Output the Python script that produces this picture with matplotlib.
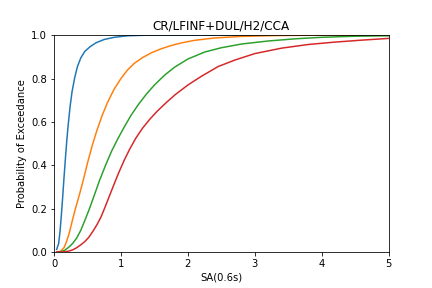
import numpy as np
import matplotlib
matplotlib.use("Agg")
import matplotlib.pyplot as plt

# fragility curves
sa_slight = [0.04, 0.07, 0.09, 0.11, 0.13, 0.15, 0.17, 0.19, 0.21, 0.24, 0.27, 0.31,
             0.35, 0.4, 0.46, 0.54, 0.63, 0.75, 0.9, 1.1, 1.4, 2.0, 3.0, 4.0, 5.0]
pe_slight = [0.012, 0.04, 0.095, 0.17, 0.255, 0.345, 0.43, 0.51, 0.58, 0.67, 0.74, 0.805,
             0.855, 0.895, 0.925, 0.947, 0.965, 0.98, 0.99, 0.997, 1.0, 1.0, 1.0, 1.0, 1.0]

sa_moderate = [0.04, 0.1, 0.15, 0.19, 0.23, 0.27, 0.32, 0.38, 0.44, 0.5, 0.57, 0.64, 0.72,
               0.8, 0.9, 1.0, 1.1, 1.2, 1.32, 1.45, 1.6, 1.75, 1.9, 2.1, 2.4, 2.8, 3.3,
               4.0, 5.0]
pe_moderate = [0.0, 0.004, 0.02, 0.05, 0.09, 0.14, 0.2, 0.265, 0.335, 0.41, 0.49, 0.56, 0.63,
               0.69, 0.752, 0.8, 0.84, 0.87, 0.896, 0.918, 0.937, 0.952, 0.964, 0.976,
               0.987, 0.994, 0.998, 1.0, 1.0]

sa_extensive = [0.04, 0.1, 0.16, 0.22, 0.28, 0.34, 0.4, 0.46, 0.53, 0.6, 0.68, 0.77, 0.86,
                0.95, 1.05, 1.15, 1.26, 1.38, 1.5, 1.65, 1.8, 2.0, 2.25, 2.5, 2.8, 3.2,
                3.6, 4.0, 4.5, 5.0]
pe_extensive = [0.0, 0.001, 0.008, 0.022, 0.04, 0.065, 0.1, 0.145, 0.2, 0.26, 0.33, 0.4,
                0.465, 0.52, 0.577, 0.63, 0.68, 0.728, 0.77, 0.815, 0.852, 0.89, 0.922,
                0.942, 0.959, 0.973, 0.983, 0.99, 0.995, 0.997]

sa_complete = [0.04, 0.16, 0.22, 0.28, 0.34, 0.4, 0.46, 0.52, 0.58, 0.64, 0.7, 0.76, 0.83,
               0.9, 0.97, 1.05, 1.13, 1.22, 1.32, 1.43, 1.55, 1.68, 1.82, 2.0, 2.2, 2.45,
               2.7, 3.0, 3.4, 3.8, 4.2, 4.6, 5.0]
pe_complete = [0.0, 0.001, 0.004, 0.01, 0.02, 0.033, 0.048, 0.068, 0.095, 0.125, 0.16,
               0.205, 0.26, 0.315, 0.368, 0.424, 0.474, 0.524, 0.57, 0.612, 0.652, 0.69,
               0.728, 0.77, 0.81, 0.855, 0.885, 0.915, 0.94, 0.957, 0.968, 0.977, 0.985]

fig = plt.figure(figsize=(6, 4), dpi=72)
fig.subplots_adjust(left=0.125, right=0.9, bottom=0.125, top=0.878)
ax = plt.gca()
ax.plot(sa_slight, pe_slight)
ax.plot(sa_moderate, pe_moderate)
ax.plot(sa_extensive, pe_extensive)
ax.plot(sa_complete, pe_complete)
ax.set_xlim(0, 5)
ax.set_ylim(0, 1)
ax.set_xlabel('SA(0.6s)')
ax.set_ylabel('Probability of Exceedance')
ax.set_title('CR/LFINF+DUL/H2/CCA')
fig.savefig('out.png', dpi=72)
